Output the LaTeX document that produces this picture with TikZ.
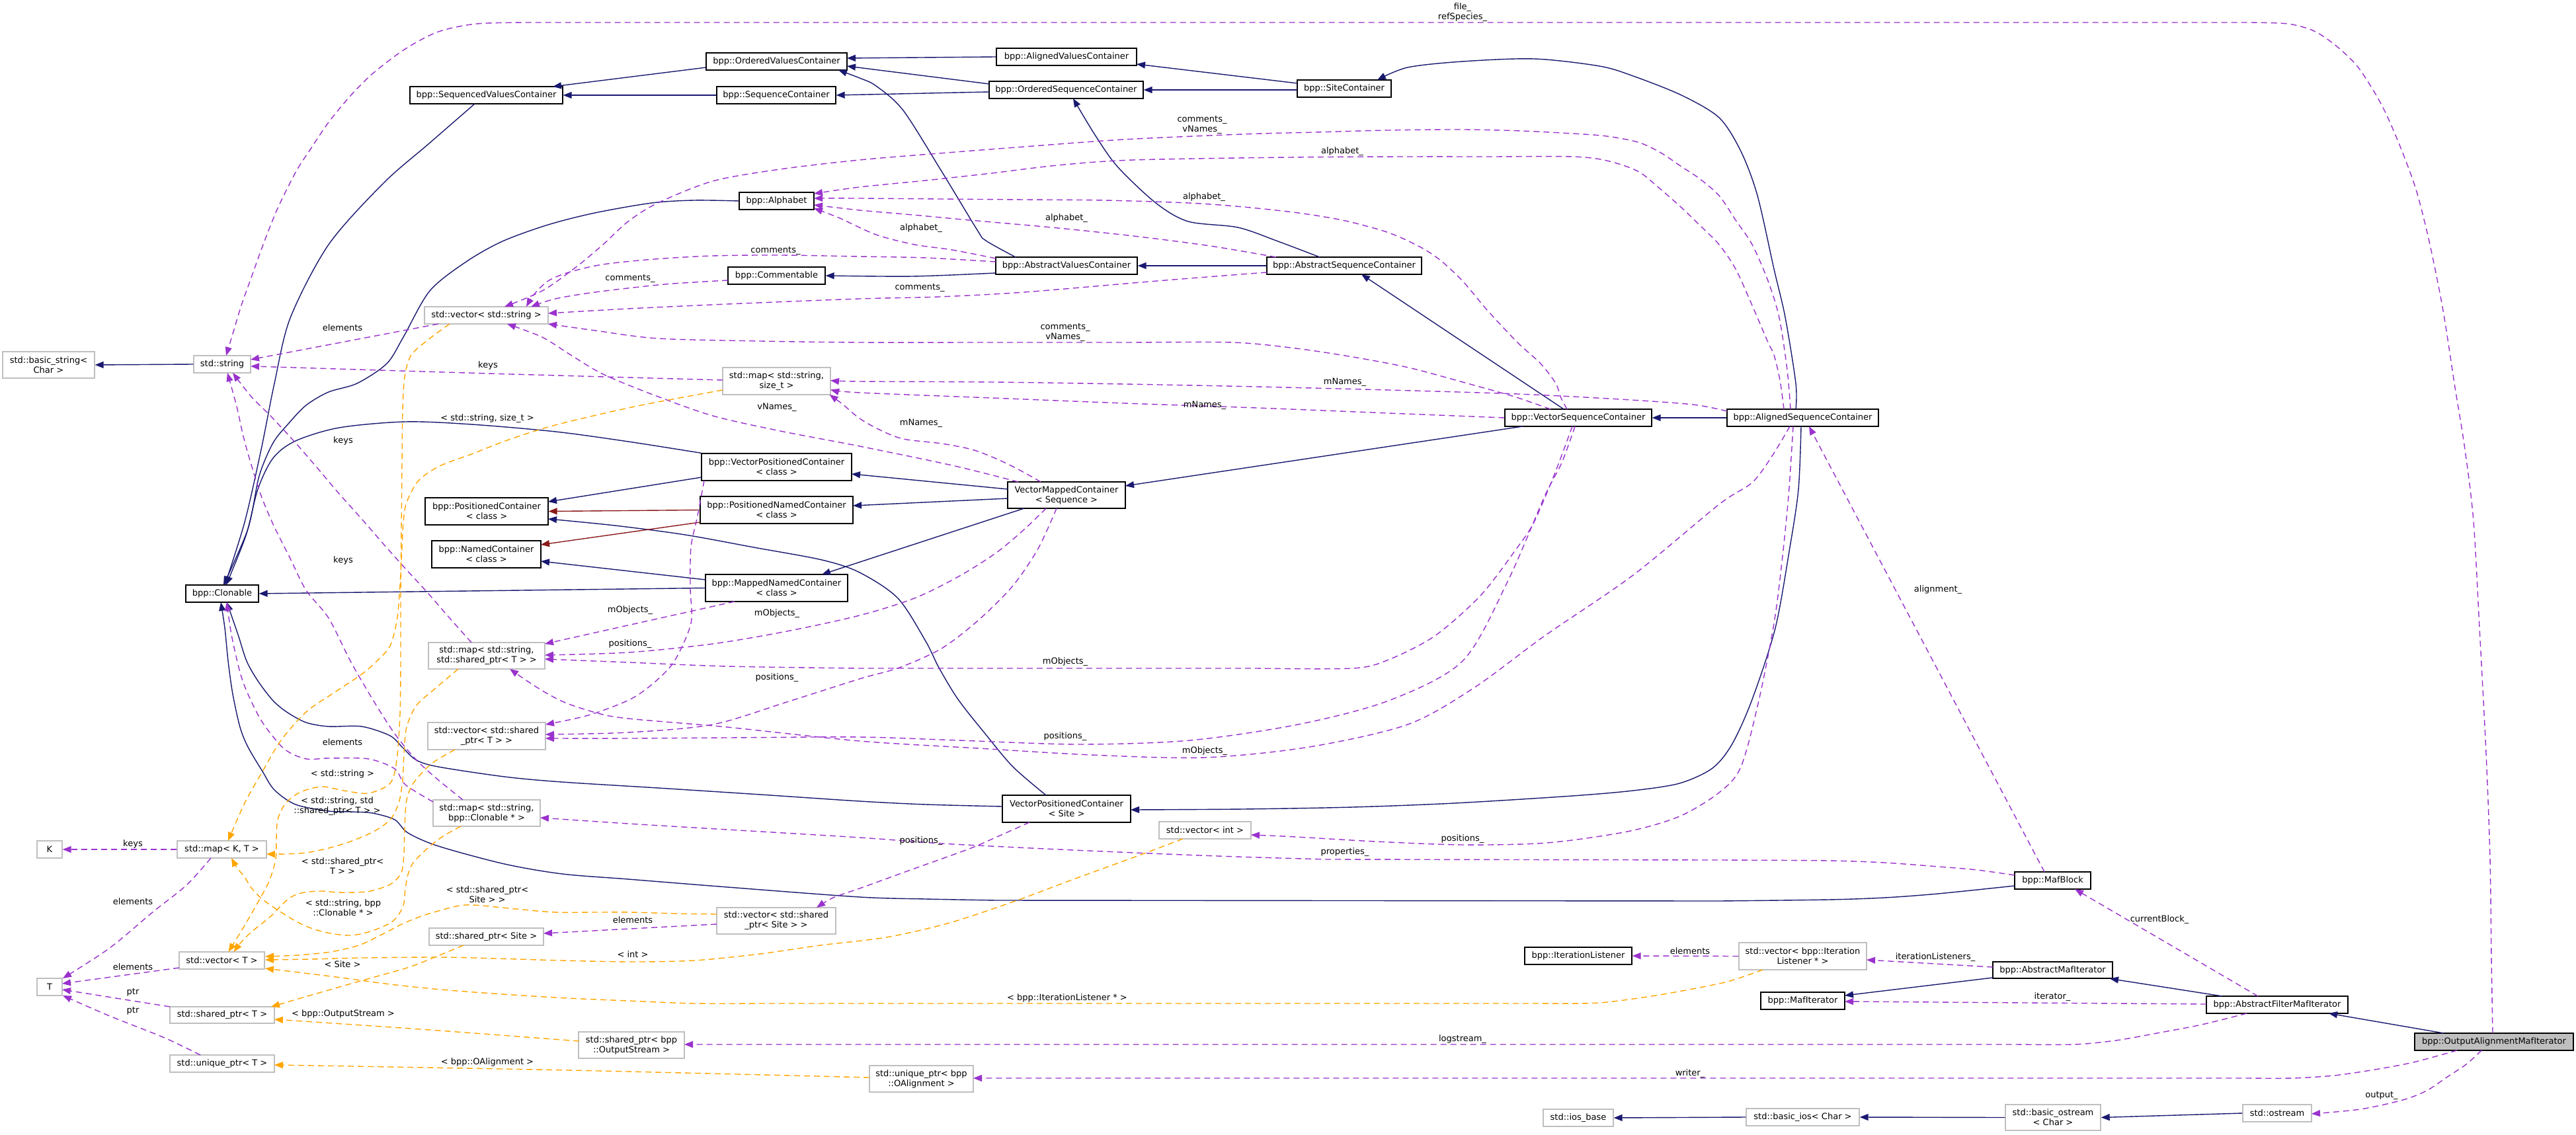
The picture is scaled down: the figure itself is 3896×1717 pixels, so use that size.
\documentclass[tikz,border=0pt]{standalone}
\usepackage{fontspec}
\setmainfont{DejaVu Sans}
\usetikzlibrary{arrows.meta}
\definecolor{navyc}{HTML}{191970}
\definecolor{orchc}{HTML}{9A32CD}
\definecolor{orngc}{HTML}{FFA500}
\definecolor{dredc}{HTML}{8B1A1A}
\definecolor{gryc}{HTML}{BFBFBF}
\newcommand\bx[7]{\node[#2, minimum width={(#5-#3)*0.5pt}, minimum height={(#6-#4)*0.5pt}] (#1) at ({(#3+#5)/2},{(#4+#6)/2}) {#7};}
\tikzset{
  txt/.style={font=\fontsize{6.5}{7.5}\selectfont},
  boxbase/.style={txt, rectangle, inner sep=0pt, align=center, line width=0.65pt, fill=white},
  doc/.style={boxbase, draw=black},
  ext/.style={boxbase, draw=gryc},
  cur/.style={boxbase, draw=black, fill=gryc},
  lbl/.style={txt, inner sep=0pt, align=center},
  hd/.style={-{Triangle[length=6.5pt,width=5pt]}},
  inh/.style={draw=navyc, line width=0.7pt, hd},
  inhr/.style={draw=dredc, line width=0.7pt, hd},
  use/.style={draw=orchc, line width=0.7pt, dash pattern=on 4.5pt off 3pt, hd},
  tpl/.style={draw=orngc, line width=0.7pt, dash pattern=on 4.5pt off 3pt, hd},
}
\begin{document}
\begin{tikzpicture}[x=0.5pt,y=-0.5pt]
\fill[white] (0,0) rectangle (3896,1717);
\useasboundingbox (0,0) rectangle (3896,1717);
% ---------------- nodes
\bx{ovc}{doc}{1068}{80}{1281}{106}{bpp::OrderedValuesContainer}
\bx{avc}{doc}{1507}{73}{1719}{99}{bpp::AlignedValuesContainer}
\bx{svc}{doc}{620}{131}{851}{157}{bpp::SequencedValuesContainer}
\bx{sqc}{doc}{1084}{131}{1264}{157}{bpp::SequenceContainer}
\bx{osc}{doc}{1496}{123}{1729}{149}{bpp::OrderedSequenceContainer}
\bx{stc}{doc}{1962}{121}{2104}{147}{bpp::SiteContainer}
\bx{alp}{doc}{1118}{291}{1231}{317}{bpp::Alphabet}
\bx{cmt}{doc}{1101}{404}{1248}{430}{bpp::Commentable}
\bx{absv}{doc}{1506}{389}{1720}{415}{bpp::AbstractValuesContainer}
\bx{abss}{doc}{1916}{389}{2150}{415}{bpp::AbstractSequenceContainer}
\bx{vstr}{ext}{642}{464}{829}{490}{std::vector< std::string >}
\bx{bstr}{ext}{4}{532}{143}{572}{std::basic\_string<\\Char >}
\bx{str}{ext}{293}{538}{379}{564}{std::string}
\bx{mss}{ext}{1093}{556}{1256}{597}{std::map< std::string,\\size\_t >}
\bx{vsc}{doc}{2276}{619}{2498}{645}{bpp::VectorSequenceContainer}
\bx{asc}{doc}{2612}{619}{2841}{645}{bpp::AlignedSequenceContainer}
\bx{vpc}{doc}{1061}{686}{1288}{727}{bpp::VectorPositionedContainer\\< class >}
\bx{pc}{doc}{643}{753}{829}{794}{bpp::PositionedContainer\\< class >}
\bx{pnc}{doc}{1059}{751}{1290}{792}{bpp::PositionedNamedContainer\\< class >}
\bx{vmc}{doc}{1524}{729}{1702}{769}{VectorMappedContainer\\< Sequence >}
\bx{nc}{doc}{653}{818}{818}{859}{bpp::NamedContainer\\< class >}
\bx{mnc}{doc}{1067}{869}{1282}{910}{bpp::MappedNamedContainer\\< class >}
\bx{cln}{doc}{281}{885}{391}{911}{bpp::Clonable}
\bx{msp}{ext}{648}{972}{824}{1012}{std::map< std::string,\\std::shared\_ptr< T > >}
\bx{vsp}{ext}{647}{1093}{825}{1134}{std::vector< std::shared\\\_ptr< T > >}
\bx{vps}{doc}{1516}{1203}{1710}{1244}{VectorPositionedContainer\\< Site >}
\bx{mcl}{ext}{655}{1210}{817}{1250}{std::map< std::string,\\bpp::Clonable * >}
\bx{vint}{ext}{1753}{1243}{1892}{1269}{std::vector< int >}
\bx{kk}{ext}{56}{1272}{94}{1298}{K}
\bx{mkt}{ext}{268}{1272}{403}{1298}{std::map< K, T >}
\bx{maf}{doc}{3047}{1319}{3162}{1345}{bpp::MafBlock}
\bx{vss}{ext}{1084}{1373}{1264}{1413}{std::vector< std::shared\\\_ptr< Site > >}
\bx{sps}{ext}{649}{1404}{822}{1430}{std::shared\_ptr< Site >}
\bx{vt}{ext}{271}{1440}{400}{1466}{std::vector< T >}
\bx{il}{doc}{2306}{1433}{2468}{1459}{bpp::IterationListener}
\bx{vil}{ext}{2630}{1426}{2823}{1467}{std::vector< bpp::Iteration\\Listener * >}
\bx{ami}{doc}{3014}{1455}{3195}{1480}{bpp::AbstractMafIterator}
\bx{tt}{ext}{56}{1480}{94}{1506}{T}
\bx{mi}{doc}{2663}{1501}{2790}{1527}{bpp::MafIterator}
\bx{afmi}{doc}{3337}{1507}{3551}{1533}{bpp::AbstractFilterMafIterator}
\bx{spt}{ext}{257}{1523}{415}{1548}{std::shared\_ptr< T >}
\bx{spo}{ext}{875}{1561}{1035}{1601}{std::shared\_ptr< bpp\\::OutputStream >}
\bx{oami}{cur}{3652}{1563}{3892}{1589}{bpp::OutputAlignmentMafIterator}
\bx{upt}{ext}{257}{1596}{415}{1622}{std::unique\_ptr< T >}
\bx{upo}{ext}{1315}{1612}{1472}{1652}{std::unique\_ptr< bpp\\::OAlignment >}
\bx{iob}{ext}{2334}{1678}{2440}{1704}{std::ios\_base}
\bx{bios}{ext}{2641}{1677}{2812}{1703}{std::basic\_ios< Char >}
\bx{bos}{ext}{3033}{1671}{3177}{1710}{std::basic\_ostream\\< Char >}
\bx{ost}{ext}{3392}{1671}{3496}{1697}{std::ostream}
% ---------------- inheritance
\draw[inh] ([shift={(-106.5,9)}]ovc.center) -- ([shift={(100.5,-13)}]svc.center);
\draw[inh] (sqc.west) -- (svc.east);
\draw[inh] (avc.west) -- ([shift={(106.5,-5)}]ovc.center);
\draw[inh] ([shift={(-116.5,-9)}]osc.center) -- ([shift={(106.5,7)}]ovc.center);
\draw[inh] ([shift={(-116.5,3)}]osc.center) -- (sqc.east);
\draw[inh] plot[smooth] coordinates {([shift={(-77,-13)}]absv.center) (1491,364) (1478,348) (1424,259) (1366,167) (1325,130) (1300,118) ([shift={(93.5,13)}]ovc.center)};
\draw[inh] ([shift={(-71,-8)}]stc.center) -- ([shift={(106,11)}]avc.center);
\draw[inh] ([shift={(-71,2)}]stc.center) -- (osc.east);
\draw[inh] plot[smooth] coordinates {([shift={(-10.5,-13)}]asc.center) (2716,580) (2700,480) (2683,407) (2658,296) (2633,229) (2600,178) (2543,144) (2470,115) (2419,100) (2320,89) (2212,93) (2129,102) ([shift={(50,-13)}]stc.center)};
\draw[inh] (abss.west) -- (absv.east);
\draw[inh] plot[smooth] coordinates {([shift={(-37,-13)}]abss.center) (1930,364) (1872,344) (1797,335) (1748,307) (1690,252) (1656,204) ([shift={(10.5,13)}]osc.center)};
\draw[inh] plot[smooth] coordinates {([shift={(-107,11)}]absv.center) (1380,418) (cmt.east)};
\draw[inh] plot[smooth] coordinates {([shift={(-17.5,13)}]svc.center) (649,217) (580,277) (497,370) (439,481) (415,580) (395,680) (370,790) ([shift={(4,-13)}]cln.center)};
\draw[inh] plot[smooth] coordinates {(alp.west) (1050,303) (986,307) (900,322) (829,340) (760,365) (705,396) (650,440) (610,510) (585,550) (540,580) (497,593) (463,613) (437,640) (413,670) (392,720) (375,800) ([shift={(2,-13)}]cln.center)};
\draw[inh] plot[smooth] coordinates {(vpc.north west) (950,668) (840,653) (713,642) (613,638) (513,647) (447,667) (413,693) (390,740) (372,810) ([shift={(6,-13)}]cln.center)};
\draw[inh] (mnc.west) -- (cln.east);
\draw[inh] plot[smooth] coordinates {([shift={(-57.5,8)}]maf.center) (2931,1352) (2850,1358) (2765,1361) (2600,1363)} --(1507,1362) --plot[smooth] coordinates {(1507,1362) (1400,1360) (1300,1357) (1100,1342) (950,1330) (850,1322) (763,1307) (663,1280) (617,1260) (597,1240) (563,1230) (530,1228) (497,1227) (447,1217) (415,1195) (397,1167) (375,1130) (363,1100) (352,1050) (345,1000) (340,950) ([shift={(-2,13)}]cln.center)};
\draw[inh] plot[smooth] coordinates {([shift={(-97,-3.5)}]vps.center) (1400,1217) (1300,1212) (1150,1202) (995,1192) (850,1183) (763,1175) (663,1160) (630,1150) (610,1132) (590,1113) (547,1099) (497,1099) (463,1093) (435,1078) (413,1060) (390,1030) (373,1000) (360,960) ([shift={(7,13)}]cln.center)};
\draw[inh] plot[smooth] coordinates {([shift={(-31,-20.5)}]vps.center) (1532,1160) (1490,1110) (1449,1058) (1420,1010) (1400,970) (1358,905) (1300,866) (1243,847) (1140,828) (1036,809) (930,795) ([shift={(93,11.5)}]pc.center)};
\draw[inh] ([shift={(-113.5,15.5)}]vpc.center) -- ([shift={(93,-14.5)}]pc.center);
\draw[inhr] (pnc.west) -- (pc.east);
\draw[inhr] ([shift={(-115.5,18.5)}]pnc.center) -- ([shift={(82.5,-14.5)}]nc.center);
\draw[inh] ([shift={(-107.5,-12.5)}]mnc.center) -- ([shift={(82.5,10.5)}]nc.center);
\draw[inh] ([shift={(-89,-9)}]vmc.center) -- ([shift={(113.5,10.5)}]vpc.center);
\draw[inh] ([shift={(-89,5)}]vmc.center) -- ([shift={(115.5,-6.5)}]pnc.center);
\draw[inh] ([shift={(-64,20)}]vmc.center) -- ([shift={(68.5,-20.5)}]mnc.center);
\draw[inh] ([shift={(-84,13)}]vsc.center) -- ([shift={(89,-14)}]vmc.center);
\draw[inh] ([shift={(-22,-13)}]vsc.center) -- ([shift={(26,13)}]abss.center);
\draw[inh] (asc.west) -- (vsc.east);
\draw[inh] plot[smooth] coordinates {([shift={(-2.5,13)}]asc.center) (2720,740) (2707,828) (2685,950) (2650,1058) (2620,1125) (2590,1162) (2540,1185) (2470,1196) (2378,1204) (2200,1215) (2046,1221) (1880,1224) ([shift={(97,1.5)}]vps.center)};
\draw[inh] ([shift={(-90.5,11.5)}]ami.center) -- ([shift={(63.5,-8)}]mi.center);
\draw[inh] ([shift={(-83,-13)}]afmi.center) -- ([shift={(86.5,13)}]ami.center);
\draw[inh] ([shift={(-76,-13)}]oami.center) -- ([shift={(78,13)}]afmi.center);
\draw[inh] (bos.west) -- (bios.east);
\draw[inh] (ost.west) -- (bos.east);
\draw[inh] (bios.west) -- (iob.east);
\draw[inh] (str.west) -- (bstr.east);
% ---------------- usage
\draw[use] plot[smooth] coordinates {([shift={(-2,-13)}]oami.center) (3768,1450) (3766,1300) (3760,1140) (3750,950) (3741,789) (3728,680) (3712,580) (3695,470) (3675,370) (3655,290) (3633,229) (3610,175) (3592,141) (3565,100) (3534,70) (3500,47) (3460,36) (3400,34)} --(800,34) --plot[smooth] coordinates {(800,34) (721,36) (663,48) (613,74) (564,111) (530,145) (497,185) (470,225) (448,259) (420,315) (398,370) (380,420) (365,462) (352,505) ([shift={(6,-13)}]str.center)};
\draw[use] plot[smooth] coordinates {([shift={(-18.5,-13)}]asc.center) (2703,560) (2691,481) (2674,425) (2650,370) (2625,333) (2600,296) (2570,270) (2543,252) (2510,230) (2477,215) (2430,206) (2378,202) (2300,198) (2212,196) (2100,197) (1990,200) (1880,203) (1700,211) (1549,222) (1420,232) (1300,242) (1180,256) (1078,274) (995,307) (950,335) (912,370) (870,405) (820,440) ([shift={(27.5,-13)}]vstr.center)};
\draw[use] plot[smooth] coordinates {([shift={(-28.5,-13)}]asc.center) (2692,575) (2683,537) (2674,518) (2650,462) (2625,407) (2600,370) (2570,340) (2543,314) (2510,285) (2477,259) (2430,243) (2378,237) (2250,237) (2129,237) (1950,238) (1714,242) (1600,250) (1500,262) (1400,273) (1300,283) ([shift={(56.5,-11)}]alp.center)};
\draw[use] plot[smooth] coordinates {([shift={(-17,-13)}]vsc.center) (2360,600) (2353,580) (2330,550) (2295,518) (2250,470) (2212,425) (2180,395) (2154,377) (2120,360) (2088,348) (2030,333) (1963,322) (1880,313) (1797,307) (1670,303) (1549,302) (1420,301) (1300,300) ([shift={(56.5,-4)}]alp.center)};
\draw[use] plot[smooth] coordinates {([shift={(-103,-13)}]abss.center) (1830,372) (1714,357) (1590,344) (1466,333) (1380,325) (1300,318) ([shift={(56.5,6)}]alp.center)};
\draw[use] plot[smooth] coordinates {([shift={(-107,-11)}]absv.center) (1440,378) (1383,370) (1325,355) (1270,330) ([shift={(56.5,11)}]alp.center)};
\draw[use] plot[smooth] coordinates {([shift={(-107,-6)}]absv.center) (1400,390) (1300,388) (1180,386) (1078,387) (990,392) (912,400) (860,412) (829,425) (808,445) ([shift={(60.5,-13)}]vstr.center)};
\draw[use] plot[smooth] coordinates {([shift={(-73.5,7)}]cmt.center) (1050,427) (995,431) (900,442) (840,452) ([shift={(67.5,-13)}]vstr.center)};
\draw[use] plot[smooth] coordinates {([shift={(-117,10)}]abss.center) (1750,425) (1549,442) (1420,449) (1300,452) (1100,460) (950,467) ([shift={(93.5,-3)}]vstr.center)};
\draw[use] plot[smooth] coordinates {([shift={(-42,-13)}]vsc.center) (2290,600) (2212,578) (2130,556) (2046,540) (1960,527) (1864,518) (1700,518) (1500,518) (1300,518) (1150,516) (995,512) (900,500) ([shift={(93.5,13)}]vstr.center)};
\draw[use] plot[smooth] coordinates {([shift={(-73,-20)}]vmc.center) (1440,704) (1300,675) (1180,652) (1078,629) (990,598) (912,566) (860,535) (820,510) ([shift={(31.5,13)}]vstr.center)};
\draw[use] plot[smooth] coordinates {([shift={(-114.5,-10)}]asc.center) (2560,612) (2450,604) (2295,596) (2100,590) (1900,585) (1700,581) (1500,578) (1300,577) ([shift={(81.5,-1)}]mss.center)};
\draw[use] plot[smooth] coordinates {(vsc.west) (2100,625) (1900,617) (1700,610) (1500,602) (1300,594) ([shift={(81.5,13)}]mss.center)};
\draw[use] plot[smooth] coordinates {([shift={(-39,-20)}]vmc.center) (1540,710) (1507,694) (1470,680) (1424,671) (1366,664) (1330,650) (1300,633) (1275,612) ([shift={(80,20.5)}]mss.center)};
\draw[use] plot[smooth] coordinates {([shift={(-81.5,-1.5)}]mss.center) (738,565) ([shift={(43,3)}]str.center)};
\draw[use] plot[smooth] coordinates {([shift={(-23,-20)}]msp.center) (680,935) (647,897) (613,860) (580,823) (547,785) (513,747) (480,708) (447,670) (410,630) (380,600) ([shift={(16,13)}]str.center)};
\draw[use] plot[smooth] coordinates {([shift={(-36,-20)}]mcl.center) (663,1180) (630,1150) (597,1110) (563,1057) (530,1000) (497,935) (463,893) (438,843) (413,793) (395,750) (380,703) (368,660) (358,615) ([shift={(8,13)}]str.center)};
\draw[use] ([shift={(-72.5,13)}]vstr.center) -- ([shift={(43,-7)}]str.center);
\draw[use] plot[smooth] coordinates {([shift={(-81,-17)}]mcl.center) (613,1187) (597,1163) (557,1148) (497,1147) (463,1148) (430,1133) (397,1093) (375,1050) (363,1017) (350,960) ([shift={(7,13)}]cln.center)};
\draw[use] ([shift={(-90,5)}]vss.center) -- ([shift={(86.5,-5)}]sps.center);
\draw[use] (vil.west) -- (il.east);
\draw[use] (mkt.west) -- (kk.east);
\draw[use] plot[smooth] coordinates {([shift={(-16.5,13)}]mkt.center) (282,1339) (232,1379) (166,1434) ([shift={(20,-13)}]tt.center)};
\draw[use] ([shift={(-64.5,11)}]vt.center) -- ([shift={(19,-5)}]tt.center);
\draw[use] ([shift={(-79,-12.5)}]spt.center) -- ([shift={(19,4)}]tt.center);
\draw[use] plot[smooth] coordinates {([shift={(-33,-13)}]upt.center) (249,1570) (166,1537) ([shift={(20,13)}]tt.center)};
\draw[use] ([shift={(-63.5,20.5)}]mnc.center) -- ([shift={(88,-18)}]msp.center);
\draw[use] plot[smooth] coordinates {([shift={(-31,20)}]vmc.center) (1550,800) (1507,836) (1450,872) (1383,905) (1300,931) (1190,955) (1078,974) (950,987) ([shift={(88,-1)}]msp.center)};
\draw[use] plot[smooth] coordinates {([shift={(-9,13)}]vsc.center) (2350,720) (2320,790) (2295,828) (2240,900) (2170,962) (2100,998) (2046,1011) (1900,1011)} --(1300,1011) --plot[smooth] coordinates {(1300,1011) (1100,1008) (950,1002) ([shift={(88,5)}]msp.center)};
\draw[use] plot[smooth] coordinates {([shift={(-109.5,20.5)}]vpc.center) (1055,780) (1045,828) (1044,890) (1045,943) (1020,1000) (990,1032) (953,1058) (890,1082) ([shift={(89,-17.5)}]vsp.center)};
\draw[use] plot[smooth] coordinates {([shift={(-15,20)}]vmc.center) (1570,830) (1532,886) (1480,938) (1424,981) (1360,1010) (1300,1027) (1190,1062) (1078,1096) (950,1108) ([shift={(89,-2.5)}]vsp.center)};
\draw[use] plot[smooth] coordinates {([shift={(-5,13)}]vsc.center) (2362,700) (2336,751) (2280,880) (2212,1000) (2100,1060) (1963,1096) (1800,1120) (1632,1126) (1450,1120) (1300,1115) (1100,1116) (950,1117) ([shift={(89,3.5)}]vsp.center)};
\draw[use] plot[smooth] coordinates {([shift={(-19.5,13)}]asc.center) (2680,690) (2650,730) (2600,763) (2470,870) (2336,962) (2230,1040) (2129,1096) (1980,1130) (1822,1146) (1650,1142) (1480,1132) (1300,1121) (1100,1100) (960,1088) (912,1081) (860,1065) (829,1050) (800,1032) ([shift={(35,20)}]msp.center)};
\draw[use] plot[smooth] coordinates {([shift={(-14.5,13)}]asc.center) (2705,750) (2695,850) (2683,943) (2660,1060) (2633,1160) (2600,1199) (2540,1235) (2461,1258) (2340,1275) (2212,1278) (2080,1273) (1960,1266) ([shift={(69.5,7)}]vint.center)};
\draw[use] plot[smooth] coordinates {([shift={(-56,20.5)}]vps.center) (1510,1265) (1466,1284) (1380,1315) (1300,1344) (1260,1358) ([shift={(61,-20)}]vss.center)};
\draw[use] plot[smooth] coordinates {([shift={(-57.5,-8)}]maf.center) (2990,1316) (2931,1311) (2850,1305) (2765,1302) (2600,1301)} --(2005,1300) --plot[smooth] coordinates {(2005,1300) (1870,1296) (1739,1291) (1580,1284) (1424,1276) (1300,1267) (1100,1255) (950,1246) ([shift={(81,7)}]mcl.center)};
\draw[use] ([shift={(-12.5,-13)}]maf.center) -- ([shift={(9.5,13)}]asc.center);
\draw[use] ([shift={(-29,-13)}]afmi.center) -- ([shift={(33.5,13)}]maf.center);
\draw[use] ([shift={(-90.5,-4.5)}]ami.center) -- ([shift={(96.5,5.5)}]vil.center);
\draw[use] ([shift={(-107,-1)}]afmi.center) -- ([shift={(63.5,1)}]mi.center);
\draw[use] plot[smooth] coordinates {([shift={(-46,13)}]afmi.center) (3330,1550) (3262,1563) (3200,1574) (3137,1580) (3050,1580)} --(1120,1580) -- ([shift={(80,-1)}]spo.center);
\draw[use] plot[smooth] coordinates {([shift={(-56,13)}]oami.center) (3650,1607) (3592,1618) (3530,1627) (3468,1631) (3400,1631)} --([shift={(78.5,-1)}]upo.center);
\draw[use] plot[smooth] coordinates {([shift={(-19,13)}]oami.center) (3730,1610) (3700,1630) (3670,1650) (3634,1664) (3570,1678) ([shift={(52,1)}]ost.center)};
% ---------------- template instances
\draw[tpl] plot[smooth] coordinates {([shift={(-55.5,13)}]vstr.center) (650,512) (622,537) (612,570) (609,620) (608,700) (607,800) (606,900) (606,1000) (605,1080) (600,1150) (590,1185) (557,1200) (520,1196) (487,1190) (455,1198) (432,1215) (420,1240) (418,1270) (417,1300) (407,1333) (390,1365) (370,1400) ([shift={(10,-13)}]vt.center)};
\draw[tpl] plot[smooth] coordinates {([shift={(-81.5,13.5)}]mss.center) (960,615) (840,643) (770,665) (713,687) (665,705) (633,727) (615,760) (610,790) (607,850) (604,900) (600,940) (590,977) (570,1000) (547,1020) (505,1048) (463,1077) (425,1120) (397,1167) (370,1215) ([shift={(9.5,-13)}]mkt.center)};
\draw[tpl] plot[smooth] coordinates {([shift={(-43,20)}]msp.center) (660,1040) (630,1067) (615,1100) (611,1140) (609,1180) (603,1215) (590,1240) (565,1258) (530,1273) (497,1283) (463,1290) (430,1292) ([shift={(67.5,7)}]mkt.center)};
\draw[tpl] plot[smooth] coordinates {([shift={(-48,20.5)}]vsp.center) (665,1147) (647,1160) (625,1185) (615,1210) (612,1250) (611,1290) (607,1320) (590,1338) (560,1348) (537,1350) (510,1350) (487,1348) (460,1350) (440,1357) (425,1370) (413,1383) (395,1398) (380,1410) (365,1425) ([shift={(18,-13)}]vt.center)};
\draw[tpl] plot[smooth] coordinates {([shift={(-39,20)}]mcl.center) (670,1265) (647,1283) (625,1305) (617,1323) (613,1345) (610,1370) (598,1390) (583,1400) (557,1410) (530,1415) (500,1412) (473,1405) (450,1395) (430,1383) (410,1370) (393,1357) (380,1343) (370,1327) (358,1312) ([shift={(14.5,13)}]mkt.center)};
\draw[tpl] plot[smooth] coordinates {([shift={(-90,-10)}]vss.center) (1020,1382) (954,1380) (900,1380) (839,1380) (780,1375) (715,1369) (690,1371) (667,1377) (640,1385) (610,1397) (575,1415) (543,1430) (500,1440) (450,1445) ([shift={(65.5,-6)}]vt.center)};
\draw[tpl] plot[smooth] coordinates {([shift={(-33.5,13)}]vint.center) (1720,1295) (1624,1330) (1530,1365) (1433,1397) (1340,1418) (1241,1430) (1150,1443) (1050,1453) (954,1455) (850,1453) (750,1450) (667,1448) (550,1449) (470,1451) ([shift={(65.5,-1)}]vt.center)};
\draw[tpl] plot[smooth] coordinates {([shift={(-60.5,20.5)}]vil.center) (2635,1478) (2600,1488) (2510,1505) (2419,1517) (2330,1518)} --(1150,1518) --plot[smooth] coordinates {(1150,1518) (1050,1518) (950,1514) (859,1510) (760,1504) (667,1497) (590,1489) (524,1480) (460,1472) ([shift={(65.5,12)}]vt.center)};
\draw[tpl] plot[smooth] coordinates {([shift={(-34.5,13)}]sps.center) (660,1447) (619,1463) (570,1477) (524,1490) (465,1507) ([shift={(74,-12.5)}]spt.center)};
\draw[tpl] plot[smooth] coordinates {([shift={(-79,-6)}]spo.center) (650,1558) ([shift={(79,6.5)}]spt.center)};
\draw[tpl] plot[smooth] coordinates {([shift={(-78.5,-2)}]upo.center) (860,1619) ([shift={(79,2)}]upt.center)};
% ---------------- labels
\node[lbl] (t1) at (2212,19) {file\_\\refSpecies\_};
\node[lbl] (t2) at (1818,189) {comments\_\\vNames\_};
\node[lbl] (t3) at (2030,229) {alphabet\_};
\node[lbl] (t4) at (1821,298) {alphabet\_};
\node[lbl] (t5) at (1613,330) {alphabet\_};
\node[lbl] (t6) at (1393,345) {alphabet\_};
\node[lbl] (t7) at (1173,379) {comments\_};
\node[lbl] (t8) at (953,421) {comments\_};
\node[lbl] (t9) at (1391,435) {comments\_};
\node[lbl] (t10) at (1611,503) {comments\_\\vNames\_};
\node[lbl] (t11) at (518,496) {elements};
\node[lbl] (t12) at (738,553) {keys};
\node[lbl] (t13) at (2034,578) {mNames\_};
\node[lbl] (t14) at (1822,613) {mNames\_};
\node[lbl] (t15) at (1175,616) {vNames\_};
\node[lbl] (t16) at (737,633) {< std::string, size\_t >};
\node[lbl] (t17) at (1393,640) {mNames\_};
\node[lbl] (t18) at (519,667) {keys};
\node[lbl] (t19) at (519,848) {keys};
\node[lbl] (t20) at (2931,892) {alignment\_};
\node[lbl] (t21) at (953,923) {mObjects\_};
\node[lbl] (t22) at (1175,928) {mObjects\_};
\node[lbl] (t23) at (953,974) {positions\_};
\node[lbl] (t24) at (1611,1001) {mObjects\_};
\node[lbl] (t25) at (1175,1025) {positions\_};
\node[lbl] (t26) at (1611,1114) {positions\_};
\node[lbl] (t27) at (518,1123) {elements};
\node[lbl] (t28) at (1822,1136) {mObjects\_};
\node[lbl] (t29) at (518,1171) {< std::string >};
\node[lbl] (t30) at (510,1220) {< std::string, std\\::shared\_ptr< T > >};
\node[lbl] (t31) at (2212,1269) {positions\_};
\node[lbl] (t32) at (201,1277) {keys};
\node[lbl] (t33) at (1393,1272) {positions\_};
\node[lbl] (t34) at (2034,1289) {properties\_};
\node[lbl] (t35) at (518,1310) {< std::shared\_ptr<\\T > >};
\node[lbl] (t36) at (737,1353) {< std::shared\_ptr<\\Site > >};
\node[lbl] (t37) at (201,1364) {elements};
\node[lbl] (t38) at (519,1373) {< std::string, bpp\\::Clonable * >};
\node[lbl] (t39) at (3266,1391) {currentBlock\_};
\node[lbl] (t40) at (957,1392) {elements};
\node[lbl] (t41) at (2556,1439) {elements};
\node[lbl] (t42) at (957,1444) {< int >};
\node[lbl] (t43) at (2927,1448) {iterationListeners\_};
\node[lbl] (t44) at (518,1459) {< Site >};
\node[lbl] (t45) at (201,1463) {elements};
\node[lbl] (t46) at (201,1501) {ptr};
\node[lbl] (t47) at (3104,1508) {iterator\_};
\node[lbl] (t48) at (1614,1510) {< bpp::IterationListener * >};
\node[lbl] (t49) at (201,1529) {ptr};
\node[lbl] (t50) at (519,1534) {< bpp::OutputStream >};
\node[lbl] (t51) at (2212,1572) {logstream\_};
\node[lbl] (t52) at (737,1607) {< bpp::OAlignment >};
\node[lbl] (t53) at (2556,1624) {writer\_};
\node[lbl] (t54) at (3602,1657) {output\_};
\end{tikzpicture}
\end{document}
